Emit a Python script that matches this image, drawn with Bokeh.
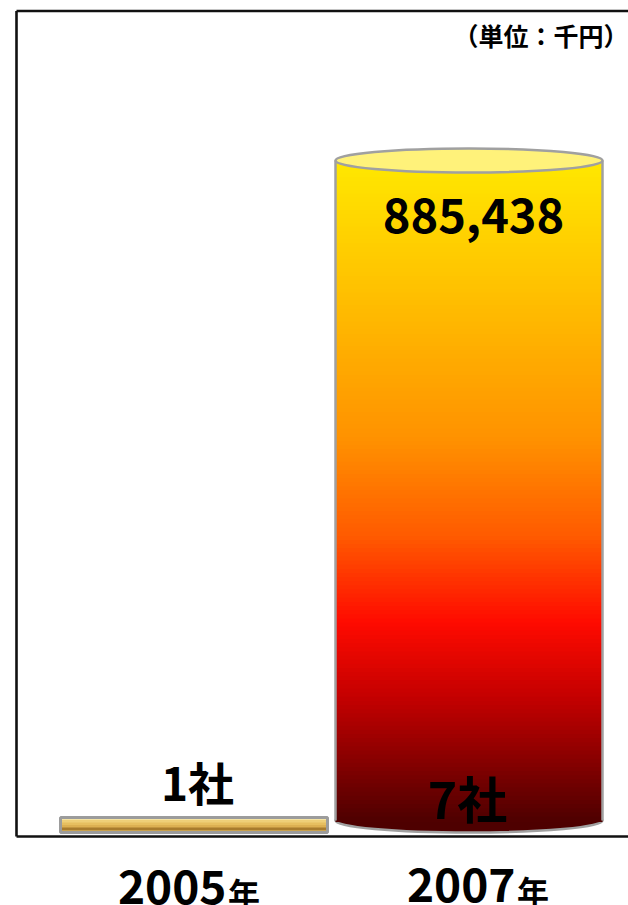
import numpy as np
from bokeh.plotting import figure
from bokeh.models import Range1d
from bokeh.core.properties import value
from bokeh.embed import file_html
from bokeh.resources import INLINE

# ---- data ----
years = ["2005", "2007"]
year_suffix = ["年", "年"]
amounts = [4000, 885438]          # 千円
companies = ["1社", "7社"]
amount_labels = ["", "885,438"]
unit_text = "（単位：千円）"

# ---- layout helpers (screen scale) ----
W, H = 628, 905
PX_PER_CAT = 275.0                      # pixels between category centres
UPP = amounts[1] / 660.0                # data units per pixel (y)
ZERO_PX = 820.0                         # screen row of the value axis zero
X0 = -193.5 / PX_PER_CAT
X1 = X0 + W / PX_PER_CAT
Y1 = ZERO_PX * UPP
Y0 = -(H - ZERO_PX) * UPP
BAR_W = 267 / PX_PER_CAT
FONT = value("Noto Sans CJK JP")

p = figure(width=W, height=H, x_range=Range1d(X0, X1), y_range=Range1d(Y0, Y1),
           x_axis_type=None, y_axis_type=None, min_border=0,
           toolbar_location=None, output_backend="svg")
p.grid.visible = False
p.outline_line_color = None
p.background_fill_color = "white"
p.border_fill_color = "white"

# ---- frame ----
fx = X0 + 16 / PX_PER_CAT
ftop = Y1 - 10.5 * UPP
fbot = -16 * UPP
p.segment(x0=[fx, fx, fx], y0=[fbot, ftop, fbot], x1=[fx, X1, X1], y1=[ftop, ftop, fbot],
          line_color="#111111", line_width=2.6)

# ---- 2005 : flat gold bar ----
xc0 = 0
v0 = amounts[0]
base0 = -12 * UPP
gold = ["#F6E4A2", "#EFCF78", "#E7BF60", "#DDB052", "#A87B2D", "#C9A14E"]
n0 = len(gold)
edges0 = np.linspace(v0, base0, n0 + 1)
p.quad(left=[xc0 - BAR_W / 2] * n0, right=[xc0 + BAR_W / 2] * n0,
       top=edges0[:-1], bottom=edges0[1:] - 0.8 * UPP, fill_color=gold, line_color=None)
p.quad(left=[xc0 - BAR_W / 2], right=[xc0 + BAR_W / 2], top=[v0], bottom=[base0],
       fill_color=None, line_color="#9C9C9C", line_width=3)

# ---- 2007 : gradient cylinder ----
xc1 = 1
v1 = amounts[1]
stops = [0.0, 0.20, 0.42, 0.57, 0.70, 0.82, 0.93, 1.0]
stop_cols = ["#FFE800", "#FFC000", "#FF9200", "#FF5A00", "#FF0A00", "#C00000", "#7A0000", "#4E0000"]
rgb = np.array([[int(c[i:i + 2], 16) for i in (1, 3, 5)] for c in stop_cols], dtype=float)


def grad(f):
    return "#%02x%02x%02x" % tuple(int(round(np.interp(f, stops, rgb[:, k]))) for k in range(3))


N = 160
edges = np.linspace(v1, 0, N + 1)
cols = [grad((i + 0.5) / N) for i in range(N)]
# bottom ellipse
p.ellipse(x=[xc1], y=[0], width=BAR_W, height=24, height_units="screen",
          fill_color="#4E0000", line_color="#A0A0A0", line_width=2.5)
p.quad(left=[xc1 - BAR_W / 2] * N, right=[xc1 + BAR_W / 2] * N,
       top=edges[:-1], bottom=edges[1:] - 1.6 * UPP, fill_color=cols, line_color=None)
p.segment(x0=[xc1 - BAR_W / 2, xc1 + BAR_W / 2], y0=[0, 0],
          x1=[xc1 - BAR_W / 2, xc1 + BAR_W / 2], y1=[v1, v1],
          line_color="#A0A0A0", line_width=2.5)
p.ellipse(x=[xc1], y=[v1], width=BAR_W, height=24, height_units="screen",
          fill_color="#FFF27A", line_color="#A0A0A0", line_width=2.5)

# ---- labels ----
p.text(x=[xc1 + 4.5 / PX_PER_CAT], y=[v1 - 55 * UPP], text=[amount_labels[1]],
       text_font=FONT, text_font_style="bold", text_font_size="47px",
       text_align="center", text_baseline="alphabetic", text_color="black")

p.text(x=[xc0 + 3.5 / PX_PER_CAT], y=[40 * UPP], text=[companies[0]],
       text_font=FONT, text_font_style="bold", text_font_size="46px",
       text_align="center", text_baseline="alphabetic", text_color="black")
p.text(x=[xc1 - 1.5 / PX_PER_CAT], y=[24 * UPP], text=[companies[1]],
       text_font=FONT, text_font_style="bold", text_font_size="50px",
       text_align="center", text_baseline="alphabetic", text_color="black")

# category labels
digit_right = [0 + 32.5 / PX_PER_CAT, 1 + 46.5 / PX_PER_CAT]
baselines = [-66 * UPP, -64 * UPP]
p.text(x=digit_right, y=baselines, text=years,
       text_font=FONT, text_font_style="bold", text_font_size="46px",
       text_align="right", text_baseline="alphabetic", text_color="black")
p.text(x=[d + 1.5 / PX_PER_CAT for d in digit_right], y=[b - 5 * UPP for b in baselines],
       text=year_suffix, text_font=FONT, text_font_style="bold", text_font_size="32px",
       text_align="left", text_baseline="alphabetic", text_color="black")

# unit
p.text(x=[X1], y=[(ZERO_PX - 34) * UPP], text=[unit_text],
       text_font=FONT, text_font_style="bold", text_font_size="25px",
       text_align="right", text_baseline="alphabetic", text_color="black")

open("out.html", "w").write(file_html(p, INLINE))
